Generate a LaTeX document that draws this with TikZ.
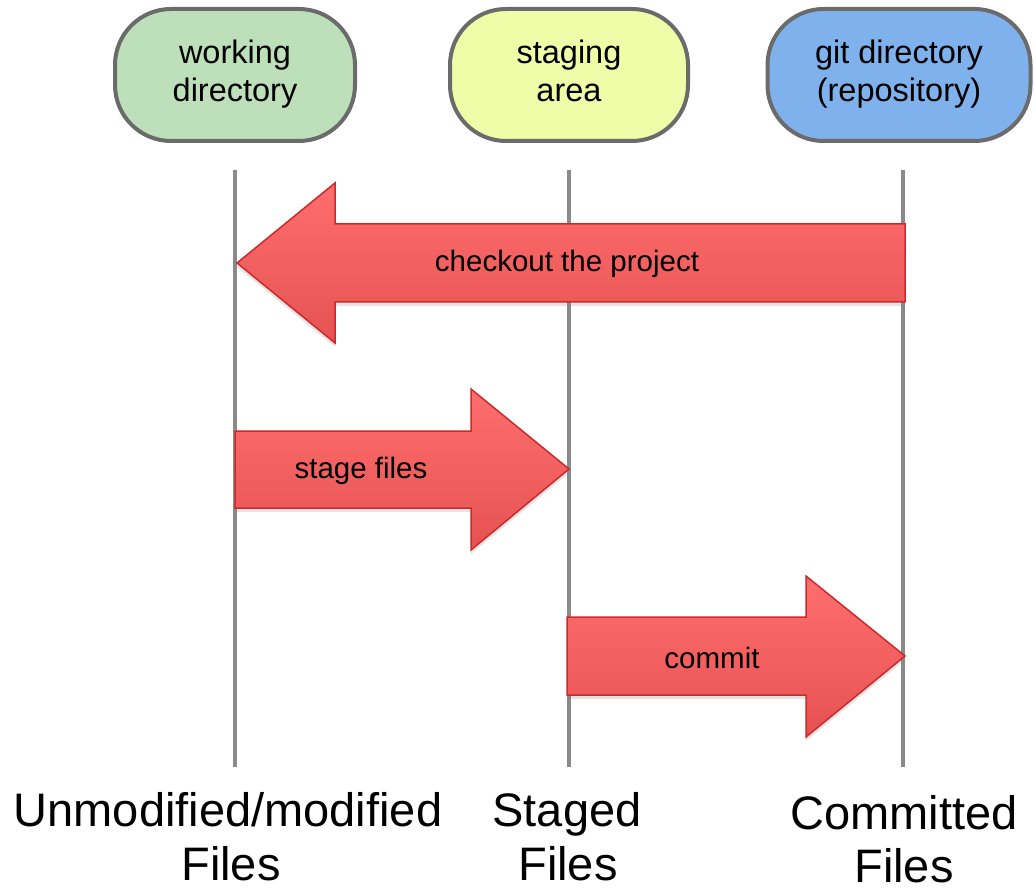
\documentclass[tikz,border=0pt]{standalone}
\usepackage{fontspec}
\setmainfont{Liberation Sans}
\usetikzlibrary{shadows}
\definecolor{boxborder}{HTML}{6B6B6B}
\definecolor{wdfill}{HTML}{BDE0BA}
\definecolor{safill}{HTML}{EFFCA8}
\definecolor{gdfill}{HTML}{7FB2EC}
\definecolor{vlinecol}{HTML}{8A8A8A}
\definecolor{arrtop}{HTML}{FF6E6E}
\definecolor{arrbot}{HTML}{E65252}
\definecolor{arrborder}{HTML}{CC2A2A}
\begin{document}
\begin{tikzpicture}[x=1pt,y=-1pt,
  areabox/.style={draw=boxborder, line width=4pt, rounded corners=56pt,
    minimum height=132pt, align=center, inner sep=0pt,
    font=\fontsize{32.5}{38}\selectfont},
  vline/.style={draw=vlinecol, line width=4pt},
  bigarrow/.style={draw=arrborder, line width=1.5pt, line join=miter,
    top color=arrtop, bottom color=arrbot,
    drop shadow={opacity=0.22, shadow xshift=0pt, shadow yshift=-4pt}},
  arrlabel/.style={font=\fontsize{29.5}{34}\selectfont, inner sep=0pt},
  statelabel/.style={font=\fontsize{47}{55}\selectfont, anchor=base, inner sep=0pt}
]
\useasboundingbox (0,0) rectangle (1036,890);

% area boxes
\node[areabox, fill=wdfill, minimum width=240pt] (wd) at (235,75) {working\strut\\directory\strut};
\node[areabox, fill=safill, minimum width=238pt] (sa) at (569,75) {staging\strut\\area\strut};
\node[areabox, fill=gdfill, minimum width=263pt] (gd) at (899,75) {git directory\strut\\(repository)\strut};

% vertical lines
\coordinate (wt) at (235,170); \coordinate (wb) at (235,767);
\coordinate (st) at (569,170); \coordinate (sb) at (569,767);
\coordinate (gt) at (903,170); \coordinate (gb) at (903,767);
\draw[vline] (wt) -- (wb);
\draw[vline] (st) -- (sb);
\draw[vline] (gt) -- (gb);

% checkout arrow
\coordinate (co1) at (237,263);
\coordinate (co2) at (905,263);
\draw[bigarrow] (co1) -- (335,183) -- (335,224) -- (905,224) -- (905,302) -- (335,302) -- (335,343) -- cycle;
\node[arrlabel] (colab) at (567,264) {checkout the project};

% stage files arrow
\coordinate (sf1) at (235,469);
\coordinate (sf2) at (569,469);
\draw[bigarrow] (235,431) -- (471,431) -- (471,389) -- (sf2) -- (471,550) -- (471,508) -- (235,508) -- cycle;
\node[arrlabel] (sflab) at (361,471) {stage files};

% commit arrow
\coordinate (cm1) at (567,656);
\coordinate (cm2) at (905,656);
\draw[bigarrow] (567,617) -- (806,617) -- (806,576) -- (cm2) -- (806,737) -- (806,695) -- (567,695) -- cycle;
\node[arrlabel] (cmlab) at (712,658) {commit};

% state labels
\node[statelabel] (u1) at (228,826) {Unmodified/modified};
\node[statelabel] (u2) at (231,880) {Files};
\node[statelabel] (s1) at (567,826) {Staged};
\node[statelabel] (s2) at (568,880) {Files};
\node[statelabel] (c1) at (904,829) {Committed};
\node[statelabel] (c2) at (904,882) {Files};
\end{tikzpicture}
\end{document}
